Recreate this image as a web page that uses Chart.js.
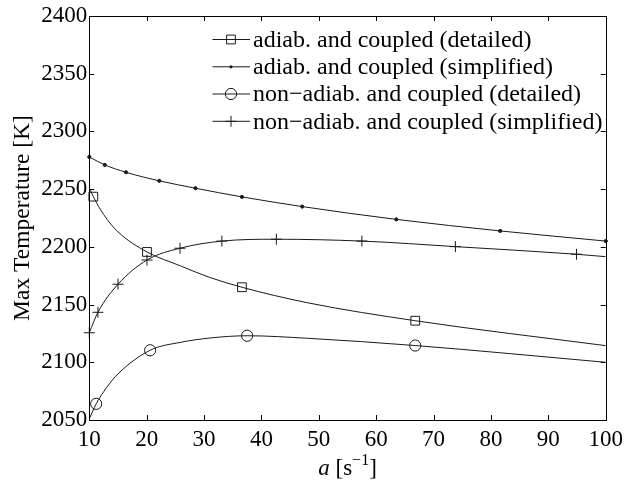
<!DOCTYPE html>
<html><head><meta charset="utf-8">
<script src="https://cdn.jsdelivr.net/npm/chart.js@4.4.1/dist/chart.umd.min.js"></script>
<style>html,body{margin:0;padding:0;background:#fff;}
#probe{position:absolute;left:-1000px;top:0;font-family:"Liberation Serif";font-size:23px;}
</style>
</head><body>
<span id="probe">Max <i>a</i> 2050</span>
<canvas id="c" width="629" height="483"></canvas>
<script>
const FONT = "'Liberation Serif', 'Times New Roman', Times, serif";
const FS = 23;
const LEG_FS = 24;

const xTicks = [10, 20, 30, 40, 50, 60, 70, 80, 90, 100];
const yTicks = [2050, 2100, 2150, 2200, 2250, 2300, 2350, 2400];
const seriesLabels = [
  'adiab. and coupled (detailed)',
  'adiab. and coupled (simplified)',
  'non\u2212adiab. and coupled (detailed)',
  'non\u2212adiab. and coupled (simplified)'
];

// adiab. detailed (squares)
const adDetCurveX = [10, 10.7, 12.5, 15, 20.05, 25.9, 31, 36.6, 48, 66.8, 100];
const adDetCurveY = [2251, 2243.5, 2228, 2213, 2195.6, 2183.5, 2173.5, 2165, 2151.6, 2136, 2114.4];
const adDetMarkX = [10.7, 20.05, 36.6, 66.8];
const adDetMarkY = [2243.5, 2195.6, 2165, 2136];

// adiab. simplified (dots)
const adSimX = [10, 12.7, 16.4, 22.2, 28.5, 36.6, 47.1, 63.5, 81.6, 100];
const adSimY = [2277.9, 2271, 2264.6, 2257.2, 2250.8, 2243.3, 2234.9, 2223.8, 2213.8, 2205];

// non-adiab. detailed (circles)
const naDetCurveX = [10, 11.2, 13, 15, 20.6, 25.9, 31, 37.5, 48, 66.8, 100];
const naDetCurveY = [2051, 2064, 2078, 2090, 2110.4, 2117.3, 2121, 2123, 2120.8, 2114.5, 2100];
const naDetMarkX = [11.2, 20.6, 37.5, 66.8];
const naDetMarkY = [2064, 2110.4, 2123, 2114.5];

// non-adiab. simplified (plus)
const naSimCurveX = [10, 11.5, 15, 20.05, 25.8, 33.1, 42.6, 57.5, 73.8, 94.9, 100];
const naSimCurveY = [2125.6, 2143.3, 2167.6, 2188.6, 2198.8, 2205, 2206.6, 2205, 2200.2, 2193.6, 2191.5];
const naSimMarkX = [10, 11.5, 15, 20.05, 25.8, 33.1, 42.6, 57.5, 73.8, 94.9];
const naSimMarkY = [2125.6, 2143.3, 2167.6, 2188.6, 2198.8, 2205, 2206.6, 2205, 2200.2, 2193.6];

const LINE = '#1a1a1a';
const pts = (xs, ys) => xs.map((x, i) => ({x: x, y: ys[i]}));

const markerStyles = [
  {pointStyle: 'rect', radius: 6.2, fill: false},
  {pointStyle: 'circle', radius: 1.6, fill: true},
  {pointStyle: 'circle', radius: 5.6, fill: false},
  {pointStyle: 'cross', radius: 5.5, fill: false}
];

function curveDS(data) {
  return {type: 'line', data: data, borderColor: LINE, borderWidth: 1, pointRadius: 0,
          cubicInterpolationMode: 'monotone', fill: false, order: 2};
}
function markDS(data, m) {
  return {type: 'line', data: data, showLine: false, pointStyle: m.pointStyle, pointRadius: m.radius,
          pointHoverRadius: m.radius, pointBorderColor: LINE, pointBorderWidth: 1,
          pointBackgroundColor: m.fill ? LINE : 'rgba(0,0,0,0)', clip: false, order: 1};
}

const datasets = [
  curveDS(pts(adDetCurveX, adDetCurveY)), markDS(pts(adDetMarkX, adDetMarkY), markerStyles[0]),
  curveDS(pts(adSimX, adSimY)), markDS(pts(adSimX, adSimY), markerStyles[1]),
  curveDS(pts(naDetCurveX, naDetCurveY)), markDS(pts(naDetMarkX, naDetMarkY), markerStyles[2]),
  curveDS(pts(naSimCurveX, naSimCurveY)), markDS(pts(naSimMarkX, naSimMarkY), markerStyles[3])
];

function drawMarker(ctx, m, x, y) {
  ctx.save();
  ctx.strokeStyle = LINE; ctx.lineWidth = 1; ctx.fillStyle = LINE;
  ctx.beginPath();
  if (m.pointStyle === 'rect') {
    const s = Math.SQRT1_2 * m.radius;
    ctx.rect(x - s, y - s, 2 * s, 2 * s); ctx.stroke();
  } else if (m.pointStyle === 'circle') {
    ctx.arc(x, y, m.radius, 0, Math.PI * 2);
    if (m.fill) ctx.fill(); else ctx.stroke();
  } else if (m.pointStyle === 'cross') {
    ctx.moveTo(x - m.radius, y); ctx.lineTo(x + m.radius, y);
    ctx.moveTo(x, y - m.radius); ctx.lineTo(x, y + m.radius); ctx.stroke();
  }
  ctx.restore();
}

const framePlugin = {
  id: 'frame',
  afterDraw(chart) {
    const ctx = chart.ctx, a = chart.chartArea;
    const xs = chart.scales.x, ys = chart.scales.y;
    ctx.save();
    ctx.strokeStyle = '#000'; ctx.lineWidth = 1;
    ctx.strokeRect(Math.round(a.left) + 0.5, Math.round(a.top) + 0.5,
                   Math.round(a.right) - Math.round(a.left), Math.round(a.bottom) - Math.round(a.top));
    const TL = 5;
    ctx.beginPath();
    xTicks.forEach(v => {
      const px = Math.round(xs.getPixelForValue(v)) + 0.5;
      ctx.moveTo(px, a.bottom); ctx.lineTo(px, a.bottom - TL);
      ctx.moveTo(px, a.top); ctx.lineTo(px, a.top + TL);
    });
    yTicks.forEach(v => {
      const py = Math.round(ys.getPixelForValue(v)) + 0.5;
      ctx.moveTo(a.left, py); ctx.lineTo(a.left + TL, py);
      ctx.moveTo(a.right, py); ctx.lineTo(a.right - TL, py);
    });
    ctx.stroke();

    // legend
    const rows = [39.5, 66.8, 94, 121.3];
    ctx.font = LEG_FS + 'px ' + FONT;
    ctx.fillStyle = '#000';
    ctx.textBaseline = 'middle';
    ctx.textAlign = 'left';
    rows.forEach((ry, i) => {
      ctx.beginPath();
      ctx.strokeStyle = LINE;
      ctx.moveTo(212.5, ry); ctx.lineTo(250, ry); ctx.stroke();
      drawMarker(ctx, markerStyles[i], 231, ry);
      ctx.fillText(seriesLabels[i], 253, ry + 1);
    });

    // y title
    ctx.save();
    ctx.font = '23.5px ' + FONT;
    ctx.translate(21.5, (a.top + a.bottom) / 2);
    ctx.rotate(-Math.PI / 2);
    ctx.textAlign = 'center';
    ctx.textBaseline = 'middle';
    ctx.fillText('Max Temperature [K]', 0, 1);
    ctx.restore();

    // x title: a [s^-1]
    const base = 475;
    const parts = [
      {t: 'a', f: 'italic ' + FS + 'px ' + FONT, dy: 0},
      {t: ' [s', f: FS + 'px ' + FONT, dy: 0},
      {t: '\u22121', f: '16px ' + FONT, dy: -10},
      {t: ']', f: FS + 'px ' + FONT, dy: 0}
    ];
    let w = 0;
    parts.forEach(p => { ctx.font = p.f; p.w = ctx.measureText(p.t).width; w += p.w; });
    let x0 = (a.left + a.right) / 2 - w / 2;
    ctx.textBaseline = 'alphabetic';
    ctx.textAlign = 'left';
    parts.forEach(p => { ctx.font = p.f; ctx.fillText(p.t, x0, base + p.dy); x0 += p.w; });
    ctx.restore();
  }
};

function build() {
  new Chart(document.getElementById('c'), {
    data: {datasets: datasets},
    options: {
      responsive: false,
      animation: false,
      devicePixelRatio: 1,
      layout: {padding: {left: 0, top: 16, right: 18.5, bottom: 0}},
      plugins: {legend: {display: false}, tooltip: {enabled: false}},
      scales: {
        x: {
          type: 'linear', min: 10, max: 100,
          afterBuildTicks: s => { s.ticks = xTicks.map(v => ({value: v})); },
          afterFit: s => { s.height = 63; },
          grid: {display: false, drawTicks: false, tickLength: 0},
          border: {display: false},
          ticks: {font: {family: FONT, size: FS}, color: '#000', padding: 6, maxRotation: 0, autoSkip: false,
                  callback: v => String(v)}
        },
        y: {
          type: 'linear', min: 2050, max: 2400,
          afterBuildTicks: s => { s.ticks = yTicks.map(v => ({value: v})); },
          afterFit: s => { s.width = 89.3; },
          grid: {display: false, drawTicks: false, tickLength: 0},
          border: {display: false},
          ticks: {font: {family: FONT, size: FS}, color: '#000', padding: 2, autoSkip: false,
                  callback: v => String(v)}
        }
      }
    },
    plugins: [framePlugin]
  });
}

if (document.fonts && document.fonts.load) {
  Promise.all([
    document.fonts.load(FS + 'px "Liberation Serif"'),
    document.fonts.load('italic ' + FS + 'px "Liberation Serif"')
  ]).then(build, build);
} else {
  build();
}
</script>
</body></html>
